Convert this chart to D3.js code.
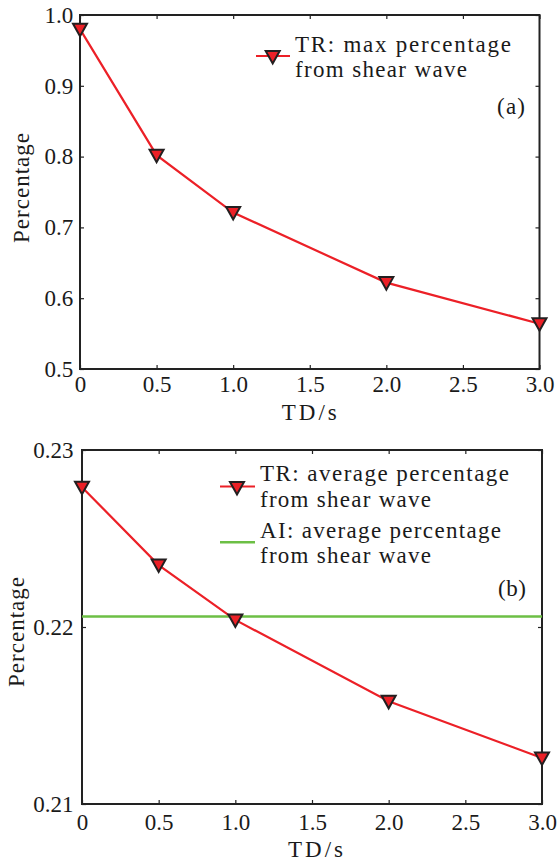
<!DOCTYPE html>
<html>
<head>
<meta charset="utf-8">
<script src="https://cdn.jsdelivr.net/npm/d3@7"></script>
<style>
  body { margin: 0; background: #fff; }
  text { font-family: "Liberation Serif", "DejaVu Serif", serif; fill: #1a1a1a; }
</style>
</head>
<body>
<svg id="fig" width="557" height="863"></svg>
<script>
// Time delay (s) and the share of energy carried by the shear wave
const tdSeconds = [0, 0.5, 1.0, 2.0, 3.0];
const trMaxPercentage = [0.980, 0.802, 0.721, 0.622, 0.564];
const trAvgPercentage = [0.2279, 0.2235, 0.2204, 0.2158, 0.2126];
const aiAvgPercentage = 0.2206;

const xTicks = [0, 0.5, 1.0, 1.5, 2.0, 2.5, 3.0];
const xTickLabels = ["0", "0.5", "1.0", "1.5", "2.0", "2.5", "3.0"];
const yTicksA = [0.5, 0.6, 0.7, 0.8, 0.9, 1.0];
const yTickLabelsA = ["0.5", "0.6", "0.7", "0.8", "0.9", "1.0"];
const yTicksB = [0.21, 0.22, 0.23];
const yTickLabelsB = ["0.21", "0.22", "0.23"];

const legendA = ["TR: max percentage", "from shear wave"];
const legendB1 = ["TR: average percentage", "from shear wave"];
const legendB2 = ["AI: average percentage", "from shear wave"];

const RED = "#ec2027", GREEN = "#6cbf45", INK = "#222";
const svg = d3.select("#fig");

function marker(g, x, y) {
  g.append("path")
    .attr("transform", `translate(${x},${y})`)
    .attr("d", "M-7,-5.5 L7,-5.5 L0,7 Z")
    .attr("fill", RED)
    .attr("stroke", "#231f20")
    .attr("stroke-width", 2)
    .attr("stroke-linejoin", "miter");
}

function panel(cfg) {
  const g = svg.append("g");
  const x = d3.scaleLinear().domain([0, 3]).range([cfg.left, cfg.right]);
  const y = d3.scaleLinear().domain(cfg.yDomain).range([cfg.bottom, cfg.top]);
  const fmtX = d => xTickLabels[xTicks.indexOf(d)];
  const fmtY = d => cfg.yLabels[cfg.yTicks.indexOf(d)];

  const styleAxis = a => {
    a.select(".domain").remove();
    a.selectAll(".tick line").attr("stroke", INK).attr("stroke-width", 1.2);
    a.selectAll(".tick text").attr("font-size", 23).attr("fill", "#1a1a1a")
      .style("font-family", '"Liberation Serif", serif');
  };

  g.append("g").attr("transform", `translate(0,${cfg.bottom})`)
    .call(d3.axisBottom(x).tickValues(xTicks).tickFormat(fmtX)
      .tickSizeInner(-4).tickSizeOuter(0).tickPadding(cfg.xPad))
    .call(styleAxis);
  g.append("g").attr("transform", `translate(0,${cfg.top})`)
    .call(d3.axisTop(x).tickValues(xTicks).tickFormat("")
      .tickSizeInner(-4).tickSizeOuter(0))
    .call(styleAxis);
  g.append("g").attr("transform", `translate(${cfg.left},0)`)
    .call(d3.axisLeft(y).tickValues(cfg.yTicks).tickFormat(fmtY)
      .tickSizeInner(-4).tickSizeOuter(0).tickPadding(cfg.yPad))
    .call(styleAxis);
  g.append("g").attr("transform", `translate(${cfg.right},0)`)
    .call(d3.axisRight(y).tickValues(cfg.yTicks).tickFormat("")
      .tickSizeInner(-4).tickSizeOuter(0))
    .call(styleAxis);

  g.append("rect")
    .attr("x", cfg.left).attr("y", cfg.top)
    .attr("width", cfg.right - cfg.left).attr("height", cfg.bottom - cfg.top)
    .attr("fill", "none").attr("stroke", INK).attr("stroke-width", 2);

  // axis titles
  g.append("text")
    .attr("x", (cfg.left + cfg.right) / 2 + cfg.xTitleShift).attr("y", cfg.xTitleY)
    .attr("text-anchor", "middle").attr("font-size", 23)
    .attr("textLength", 55).attr("lengthAdjust", "spacing")
    .text("TD/s");
  g.append("text")
    .attr("transform", `translate(${cfg.yTitleX},${cfg.yTitleY}) rotate(-90)`)
    .attr("text-anchor", "middle").attr("font-size", 23)
    .attr("textLength", 110).attr("lengthAdjust", "spacing")
    .text("Percentage");

  // panel tag
  g.append("text")
    .attr("x", cfg.tagX).attr("y", cfg.tagY)
    .attr("font-size", 23).attr("textLength", 28).attr("lengthAdjust", "spacing")
    .text(cfg.tag);

  return { g, x, y };
}

// ---- panel (a): maximum percentage
const pa = panel({
  left: 80, right: 539.5, top: 15, bottom: 369,
  yDomain: [0.5, 1.0], yTicks: yTicksA, yLabels: yTickLabelsA,
  xPad: 6.4, yPad: 6.7,
  xTitleY: 419.5, xTitleShift: -0.5,
  yTitleX: 29, yTitleY: 188,
  tag: "(a)", tagX: 497, tagY: 114
});
const lineA = d3.line().x((d, i) => pa.x(tdSeconds[i])).y(d => pa.y(d));
pa.g.append("path").datum(trMaxPercentage)
  .attr("d", lineA).attr("fill", "none")
  .attr("stroke", RED).attr("stroke-width", 2.2);
trMaxPercentage.forEach((v, i) => marker(pa.g, pa.x(tdSeconds[i]), pa.y(v)));

// legend (a)
pa.g.append("line").attr("x1", 256).attr("x2", 290).attr("y1", 56).attr("y2", 56)
  .attr("stroke", RED).attr("stroke-width", 2.2);
marker(pa.g, 272.7, 56.5);
pa.g.append("text").attr("x", 295).attr("y", 51.7).attr("font-size", 23)
  .attr("textLength", 216).attr("lengthAdjust", "spacing").text(legendA[0]);
pa.g.append("text").attr("x", 295).attr("y", 76.7).attr("font-size", 23)
  .attr("textLength", 172).attr("lengthAdjust", "spacing").text(legendA[1]);

// ---- panel (b): average percentage
const pb = panel({
  left: 82, right: 542, top: 450, bottom: 804,
  yDomain: [0.21, 0.23], yTicks: yTicksB, yLabels: yTickLabelsB,
  xPad: 9.7, yPad: 8.4,
  xTitleY: 857, xTitleShift: 3.5,
  yTitleX: 24, yTitleY: 632,
  tag: "(b)", tagX: 498, tagY: 596
});
pb.g.append("line")
  .attr("x1", pb.x(0)).attr("x2", pb.x(3))
  .attr("y1", pb.y(aiAvgPercentage)).attr("y2", pb.y(aiAvgPercentage))
  .attr("stroke", GREEN).attr("stroke-width", 2.5);
const lineB = d3.line().x((d, i) => pb.x(tdSeconds[i])).y(d => pb.y(d));
pb.g.append("path").datum(trAvgPercentage)
  .attr("d", lineB).attr("fill", "none")
  .attr("stroke", RED).attr("stroke-width", 2.2);
trAvgPercentage.forEach((v, i) => marker(pb.g, pb.x(tdSeconds[i]), pb.y(v)));

// legend (b)
pb.g.append("line").attr("x1", 220).attr("x2", 255).attr("y1", 486.5).attr("y2", 486.5)
  .attr("stroke", RED).attr("stroke-width", 2.2);
marker(pb.g, 237, 487.5);
pb.g.append("text").attr("x", 260).attr("y", 481).attr("font-size", 23)
  .attr("textLength", 249).attr("lengthAdjust", "spacing").text(legendB1[0]);
pb.g.append("text").attr("x", 260).attr("y", 506.5).attr("font-size", 23)
  .attr("textLength", 171).attr("lengthAdjust", "spacing").text(legendB1[1]);
pb.g.append("line").attr("x1", 220).attr("x2", 255).attr("y1", 542.3).attr("y2", 542.3)
  .attr("stroke", GREEN).attr("stroke-width", 2.5);
pb.g.append("text").attr("x", 260).attr("y", 537.5).attr("font-size", 23)
  .attr("textLength", 241).attr("lengthAdjust", "spacing").text(legendB2[0]);
pb.g.append("text").attr("x", 260).attr("y", 563).attr("font-size", 23)
  .attr("textLength", 171).attr("lengthAdjust", "spacing").text(legendB2[1]);
</script>
</body>
</html>
